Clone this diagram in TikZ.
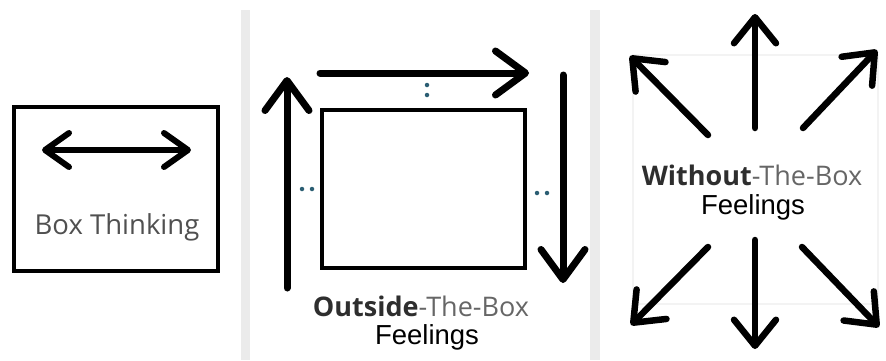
\documentclass[tikz,border=0pt]{standalone}
\usepackage{fontspec}
\setmainfont{Liberation Sans}
\newfontfamily\opensans{Open Sans}
\usetikzlibrary{arrows.meta}
\definecolor{sepgray}{HTML}{EBEBEB}
\definecolor{faintbox}{HTML}{F3F3F3}
\definecolor{txtgray}{HTML}{505050}
\definecolor{darktxt}{HTML}{2E2E2E}
\definecolor{lighttxt}{HTML}{666666}
\definecolor{dotteal}{HTML}{2B5E73}
\begin{document}
\begin{tikzpicture}[x=1pt,y=-1pt,
  boxframe/.style={draw=black, line width=4.5pt, inner sep=0pt},
  bigarrow/.style={line width=7pt, line cap=round, line join=round,
    -{Straight Barb[length=30pt,width=44pt,round]}},
  smallarrow/.style={line width=6pt, line cap=round, line join=round,
    {Straight Barb[length=24pt,width=34pt,round]}-{Straight Barb[length=24pt,width=34pt,round]}},
  startext/.style={line width=6.5pt, line cap=round, line join=round,
    -{Straight Barb[length=26pt,width=42pt,round]}},
  graylbl/.style={font=\opensans\fontsize{27.5}{32}\selectfont, text=txtgray, inner sep=0pt},
  mixlbl/.style={font=\opensans\fontsize{27}{32}\selectfont, inner sep=0pt},
  feel/.style={font=\fontsize{27.5}{32}\selectfont, text=black, inner sep=0pt},
  tdot/.style={circle, fill=dotteal, inner sep=0pt, minimum size=4.5pt}
]
\useasboundingbox (0,0) rectangle (886,360);
% separators
\fill[sepgray] (241,10) rectangle (250,360);
\fill[sepgray] (590,10) rectangle (600,360);
% faint box in panel 3
\draw[faintbox, line width=1.5pt] (633,55) rectangle (878,304);

% ---------- panel 1 ----------
\node[boxframe, minimum width=204pt, minimum height=164pt] (box1) at (116,189) {};
\coordinate (p1l) at (42,150);
\coordinate (p1r) at (191,150);
\draw[smallarrow] (p1l) -- (p1r);
\node[graylbl] (t1) at (117,227) {Box Thinking};

% ---------- panel 2 ----------
\node[boxframe, minimum width=203pt, minimum height=158pt] (box2) at (423.5,189) {};
\coordinate (upS) at (287,288);
\coordinate (upT) at (287,77);
\draw[bigarrow] (upS) -- (upT);
\coordinate (topS) at (320,73);
\coordinate (topT) at (529,73);
\draw[bigarrow] (topS) -- (topT);
\coordinate (dnS) at (563,75);
\coordinate (dnT) at (563,283);
\draw[bigarrow] (dnS) -- (dnT);
\node[tdot] (d1) at (427,85) {};
\node[tdot] (d2) at (427,95) {};
\node[tdot] (d3) at (302,189) {};
\node[tdot] (d4) at (312,189) {};
\node[tdot] (d5) at (537,193) {};
\node[tdot] (d6) at (547,193) {};
\node[mixlbl] (t2) at (421,306) {\textcolor{darktxt}{\bfseries Outside}\textcolor{lighttxt}{-The-Box}};
\node[feel] (f2) at (427,337) {Feelings};

% ---------- panel 3 ----------
\coordinate (nS) at (755,128);  \coordinate (nT) at (755,14);
\coordinate (sS) at (755,240);  \coordinate (sT) at (755,349);
\coordinate (nwS) at (708,135); \coordinate (nwT) at (630,56);
\coordinate (neS) at (803,128); \coordinate (neT) at (877,50);
\coordinate (swS) at (708,247); \coordinate (swT) at (631,325);
\coordinate (seS) at (802,247); \coordinate (seT) at (879,327);
\draw[startext] (nS) -- (nT);
\draw[startext] (sS) -- (sT);
\draw[startext] (nwS) -- (nwT);
\draw[startext] (neS) -- (neT);
\draw[startext] (swS) -- (swT);
\draw[startext] (seS) -- (seT);
\node[mixlbl] (t3) at (752,175) {\textcolor{darktxt}{\bfseries Without}\textcolor{lighttxt}{-The-Box}};
\node[feel] (f3) at (753,207) {Feelings};
\end{tikzpicture}
\end{document}
